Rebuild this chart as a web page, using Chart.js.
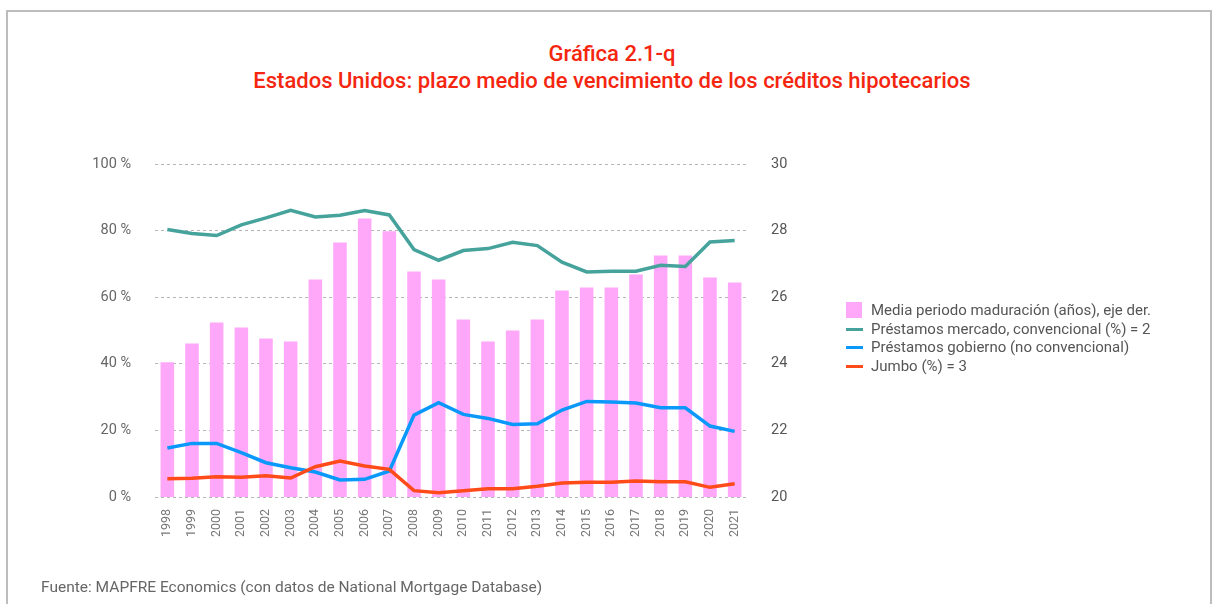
<!DOCTYPE html>
<html>
<head>
<meta charset="utf-8">
<script src="https://cdn.jsdelivr.net/npm/chart.js@4/dist/chart.umd.min.js"></script>
<style>
  html, body { margin: 0; padding: 0; background: #fff; }
  body { width: 1224px; height: 604px; position: relative; overflow: hidden; font-family: Roboto, "Open Sans", sans-serif; }
  #frame { position: absolute; left: 6px; top: 10px; width: 1206px; height: 620px; border: 2px solid #bdbdbd; box-sizing: border-box; }
  #wrap { position: absolute; left: 0; top: 0; width: 1224px; height: 604px; }
  .title { position: absolute; left: 0; width: 1224px; text-align: center; color: #f5260f; font-size: 22px; font-weight: 500; }
  #legend { position: absolute; left: 846px; top: 301px; color: #555; font-size: 15px; }
  .row { position: relative; height: 18.5px; line-height: 18.5px; padding-left: 25px; white-space: nowrap; }
  .sw { position: absolute; left: 0; }
  #src { position: absolute; left: 41px; top: 578px; color: #666; font-size: 15.5px; }
</style>
</head>
<body>
<div id="frame"></div>
<div class="title" style="top:41px;">Gráfica 2.1-q</div>
<div class="title" style="top:68px;">Estados Unidos: plazo medio de vencimiento de los créditos hipotecarios</div>
<div id="wrap"><canvas id="c" width="1224" height="604"></canvas></div>
<div id="legend">
  <div class="row"><span class="sw" style="top:1px;width:16px;height:16px;background:#ffa8fa;"></span>Media periodo maduración (años), eje der.</div>
  <div class="row"><span class="sw" style="top:8px;width:17px;height:3px;background:#45a39c;"></span>Préstamos mercado, convencional (%) = 2</div>
  <div class="row"><span class="sw" style="top:8px;width:17px;height:3px;background:#0a98fb;"></span>Préstamos gobierno (no convencional)</div>
  <div class="row"><span class="sw" style="top:8px;width:17px;height:3px;background:#ff4a1a;"></span>Jumbo (%) = 3</div>
</div>
<div id="src">Fuente: MAPFRE Economics (con datos de National Mortgage Database)</div>
<script>
const years = ["1998","1999","2000","2001","2002","2003","2004","2005","2006","2007","2008","2009","2010","2011","2012","2013","2014","2015","2016","2017","2018","2019","2020","2021"];
const maduracion = [24.05,24.61,25.24,25.09,24.76,24.67,26.53,27.64,28.36,27.98,26.77,26.53,25.33,24.67,25.0,25.33,26.2,26.29,26.29,26.68,27.25,27.25,26.59,26.44];
const convencional = [80.3,79.1,78.5,81.7,83.8,86.1,84.1,84.6,86.0,84.7,74.3,71.1,74.0,74.6,76.5,75.5,70.5,67.6,67.8,67.8,69.6,69.2,76.6,77.0];
const gobierno = [14.7,16.1,16.1,13.3,10.3,8.8,7.5,5.1,5.3,7.8,24.6,28.3,24.8,23.6,21.8,22.0,26.1,28.7,28.5,28.2,26.8,26.8,21.3,19.7];
const jumbo = [5.5,5.6,6.1,5.9,6.4,5.7,9.1,10.8,9.3,8.3,1.9,1.3,1.9,2.5,2.5,3.2,4.2,4.4,4.4,4.8,4.6,4.6,2.9,4.0];
const leftTicks = [0,20,40,60,80,100];
const rightTicks = [20,22,24,26,28,30];

const AREA = { left: 155, right: 747, top: 164, bottom: 497 };
const W = 1224, H = 604;

new Chart(document.getElementById('c'), {
  data: {
    labels: years,
    datasets: [
      { type: 'line', label: 'Jumbo (%) = 3', data: jumbo, yAxisID: 'y', borderColor: '#ff4a1a', borderWidth: 3.5, pointRadius: 0, tension: 0, order: 1 },
      { type: 'line', label: 'Préstamos gobierno (no convencional)', data: gobierno, yAxisID: 'y', borderColor: '#0a98fb', borderWidth: 3.5, pointRadius: 0, tension: 0, order: 2 },
      { type: 'line', label: 'Préstamos mercado, convencional (%) = 2', data: convencional, yAxisID: 'y', borderColor: '#45a39c', borderWidth: 3.5, pointRadius: 0, tension: 0, order: 3 },
      { type: 'bar', label: 'Media periodo maduración (años), eje der.', data: maduracion, yAxisID: 'y2', backgroundColor: '#ffa8fa', barPercentage: 0.55, categoryPercentage: 1, order: 10 }
    ]
  },
  options: {
    responsive: false,
    animation: false,
    events: [],
    layout: { padding: { top: AREA.top, left: 0, right: 0, bottom: 0 } },
    plugins: { legend: { display: false }, tooltip: { enabled: false }, title: { display: false } },
    scales: {
      x: {
        type: 'category', offset: true,
        grid: { display: false }, border: { display: false },
        ticks: { minRotation: 90, maxRotation: 90, autoSkip: false, padding: 4, color: '#777', font: { family: 'Roboto', size: 12.5 } },
        afterFit: (s) => { s.height = H - AREA.bottom; }
      },
      y: {
        position: 'left', min: 0, max: 100,
        afterBuildTicks: (s) => { s.ticks = leftTicks.map(v => ({ value: v })); },
        grid: { color: '#b5b5b5', lineWidth: 1, drawTicks: false },
        border: { display: false, dash: [3, 3] },
        ticks: { padding: 24, color: '#666', font: { family: 'Roboto', size: 14.5 }, callback: (v) => v + ' %' },
        afterFit: (s) => { s.width = AREA.left; }
      },
      y2: {
        position: 'right', min: 20, max: 30,
        afterBuildTicks: (s) => { s.ticks = rightTicks.map(v => ({ value: v })); },
        grid: { display: false, drawTicks: false }, border: { display: false },
        ticks: { padding: 24, color: '#555', font: { family: 'Roboto', size: 14.5 } },
        afterFit: (s) => { s.width = W - AREA.right; }
      }
    }
  }
});
</script>
</body>
</html>
